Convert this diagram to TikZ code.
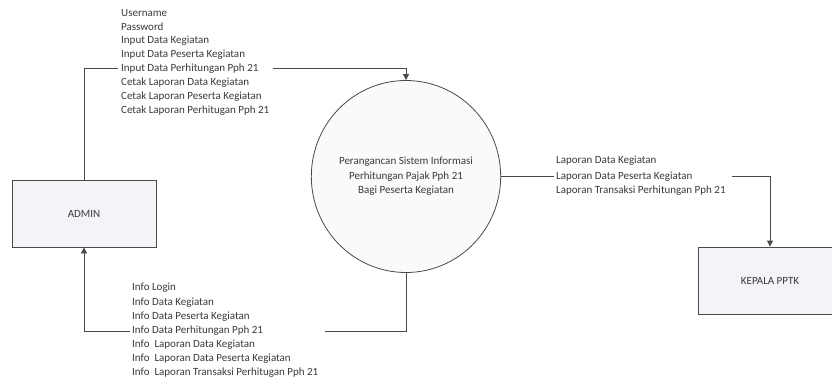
\documentclass[tikz,border=0pt]{standalone}
\usepackage{fontspec}
\setmainfont{Carlito}
\usetikzlibrary{arrows.meta,shapes.geometric}
\definecolor{ln}{HTML}{4A4A4A}
\definecolor{tx}{HTML}{3A3A3A}
\definecolor{bx}{HTML}{F2F4F8}
\definecolor{cf}{HTML}{FAFAFB}
\begin{document}
\begin{tikzpicture}[x=1pt,y=-1pt,
  lbl/.style={anchor=west,inner sep=0pt,text=tx,font=\fontsize{11}{13}\selectfont},
  entity/.style={draw=ln,line width=0.8pt,fill=bx,minimum width=144pt,minimum height=67pt,inner sep=0pt,text=tx,font=\fontsize{11}{13}\selectfont},
  proc/.style={ellipse,draw=ln,line width=0.8pt,fill=cf,minimum width=187pt,minimum height=192pt,inner sep=0pt,align=center,text=tx,font=\fontsize{11}{14.5}\selectfont},
  flow/.style={draw=ln,line width=0.8pt},
  tip/.style={-{Triangle[width=6pt,length=6pt]}}]
\useasboundingbox (0,0) rectangle (832,383);
\clip (0,0) rectangle (832,383);
\fill[white] (0,0) rectangle (832,383);

% entities and process
\node[entity] (admin) at (84,213.5) {ADMIN};
\node[entity] (kep) at (770,280.5) {KEPALA PPTK};
\node[proc] (proc) at (406,176.5) {Perangancan Sistem Informasi\\Perhitungan Pajak Pph 21\\Bagi Peserta Kegiatan};

% top labels
\node[lbl] (t1) at (121,13) {Username};
\node[lbl] (t2) at (121,26.5) {Password};
\node[lbl] (t3) at (121,40.5) {Input Data Kegiatan};
\node[lbl] (t4) at (121,54.5) {Input Data Peserta Kegiatan};
\node[lbl] (t5) at (121,68.5) {Input Data Perhitungan Pph 21};
\node[lbl] (t6) at (121,82.5) {Cetak Laporan Data Kegiatan};
\node[lbl] (t7) at (121,97) {Cetak Laporan Peserta Kegiatan};
\node[lbl] (t8) at (121,111) {Cetak Laporan Perhitugan Pph 21};

% bottom labels
\node[lbl] (b1) at (132,288) {Info Login};
\node[lbl] (b2) at (132,302.5) {Info Data Kegiatan};
\node[lbl] (b3) at (132,316.5) {Info Data Peserta Kegiatan};
\node[lbl] (b4) at (132,331) {Info Data Perhitungan Pph 21};
\node[lbl] (b5) at (132,345) {Info\ \ Laporan Data Kegiatan};
\node[lbl] (b6) at (132,359) {Info\ \ Laporan Data Peserta Kegiatan};
\node[lbl] (b7) at (132,373) {Info\ \ Laporan Transaksi Perhitugan Pph 21};

% right labels
\node[lbl] (r1) at (556,161) {Laporan Data Kegiatan};
\node[lbl] (r2) at (556,176.5) {Laporan Data Peserta Kegiatan};
\node[lbl] (r3) at (556,190.5) {Laporan Transaksi Perhitungan Pph 21};

% connectors
\coordinate (ta) at (118,68);
\coordinate (tb) at (273,68);
\draw[flow] (admin.north) |- (ta);
\draw[flow,tip] (tb) -| (proc.north);

\coordinate (ba) at (325,331);
\coordinate (bb) at (130,331);
\draw[flow] (proc.south) |- (ba);
\draw[flow,tip] (bb) -| (admin.south);

\coordinate (ra) at (554,176.5);
\coordinate (rb) at (732,176.5);
\draw[flow] (proc.east) -- (ra);
\draw[flow,tip] (rb) -| (kep.north);
\end{tikzpicture}
\end{document}
